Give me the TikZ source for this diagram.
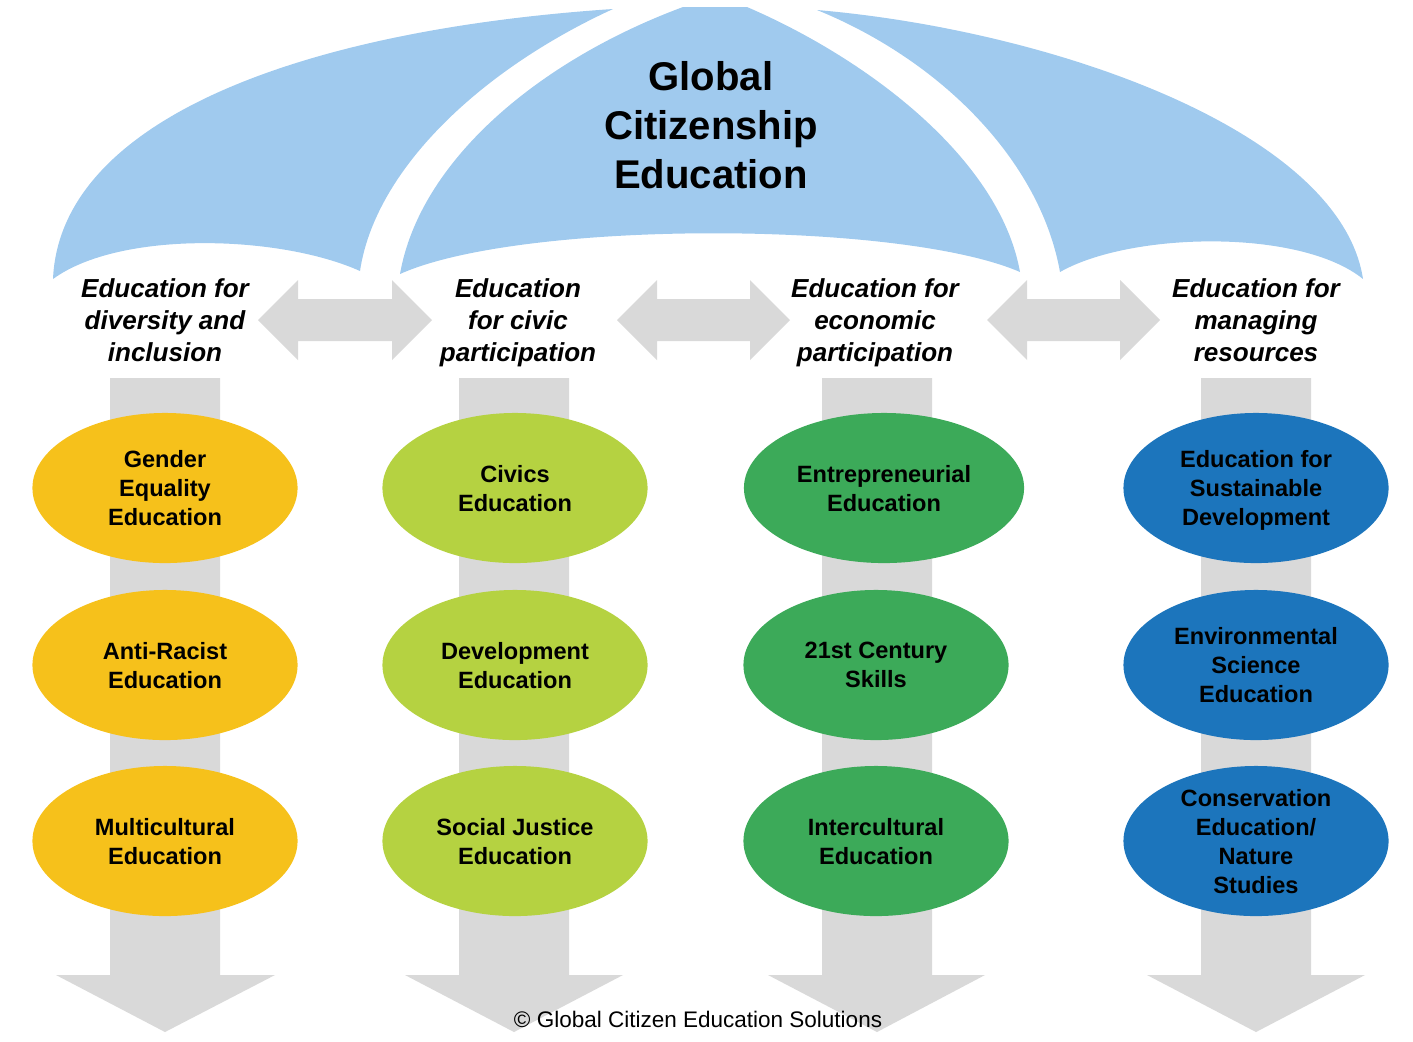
\documentclass[tikz,border=0pt]{standalone}
\usepackage{fontspec}
\setmainfont{Liberation Sans}
\usetikzlibrary{shapes.geometric}
\definecolor{umbrella}{HTML}{A0CAEE}
\definecolor{arrowgray}{HTML}{D9D9D9}
\definecolor{ovalyellow}{HTML}{F6C11B}
\definecolor{ovallime}{HTML}{B5D241}
\definecolor{ovalgreen}{HTML}{3CAA59}
\definecolor{ovalblue}{HTML}{1C75BC}
\begin{document}
\begin{tikzpicture}[x=0.01cm, y=-0.01cm,
	topic/.style={shape=ellipse, minimum width=2.65cm, minimum height=1.5cm, inner sep=0pt, align=center, text=black, text depth=0pt, font=\fontsize{6.7}{8.25}\selectfont\bfseries},
	strand/.style={align=center, text=black, text depth=0pt, font=\fontsize{7.4}{9.1}\selectfont\bfseries\itshape},
	canopy/.style={fill=umbrella, draw=none},
	blockarrow/.style={fill=arrowgray, draw=none}]
					\useasboundingbox (0,0) rectangle (1413,1041);

					% umbrella
					\fill[canopy] (53,279) .. controls (60,120) and (300,30) .. (613,9) .. controls (480,70) and (375,170) .. (360,271) .. controls (280,235) and (120,230) .. (53,279) -- cycle;
					\fill[canopy] (400,274) .. controls (420,160) and (540,60) .. (683,7) -- (747,7) .. controls (870,60) and (1000,160) .. (1020,272) .. controls (900,220) and (520,220) .. (400,274) -- cycle;
					\fill[canopy] (817,10) .. controls (940,60) and (1040,160) .. (1060,272) .. controls (1130,232) and (1300,228) .. (1363,279) .. controls (1340,130) and (1050,30) .. (817,10) -- cycle;

					\node[align=center, text=black, font=\fontsize{11.4}{13.9}\selectfont\bfseries] (gce) at (711,125) {Global\\Citizenship\\Education};

					% arrows between the strands
					\fill[blockarrow] (258,320) -- (298,280) -- (298,299) -- (392,299) -- (392,280) -- (432,320) -- (392,360) -- (392,341) -- (298,341) -- (298,360) -- cycle;
					\fill[blockarrow] (617,320) -- (657,280) -- (657,299) -- (750,299) -- (750,280) -- (790,320) -- (750,360) -- (750,341) -- (657,341) -- (657,360) -- cycle;
					\fill[blockarrow] (987,320) -- (1027,280) -- (1027,299) -- (1120,299) -- (1120,280) -- (1160,320) -- (1120,360) -- (1120,341) -- (1027,341) -- (1027,360) -- cycle;

					% arrows down the columns
					\fill[blockarrow] (110,378) -- (220,378) -- (220,975) -- (275,975) -- (165,1032) -- (56,975) -- (110,975) -- cycle;
					\fill[blockarrow] (459,378) -- (569,378) -- (569,975) -- (623,975) -- (514,1032) -- (405,975) -- (459,975) -- cycle;
					\fill[blockarrow] (822,378) -- (932,378) -- (932,975) -- (985,975) -- (877,1032) -- (768,975) -- (822,975) -- cycle;
					\fill[blockarrow] (1201,378) -- (1311,378) -- (1311,975) -- (1365,975) -- (1256,1032) -- (1147,975) -- (1201,975) -- cycle;

					\node[strand] (cat_d) at (165,320) {Education for\\diversity and\\inclusion};
					\node[strand] (cat_c) at (518,320) {Education\\for civic\\participation};
					\node[strand] (cat_e) at (875,320) {Education for\\economic\\participation};
					\node[strand] (cat_r) at (1256,320) {Education for\\managing\\resources};

					\node[topic, fill=ovalyellow] (d_1) at (165,488) {Gender\\Equality\\Education};
					\node[topic, fill=ovalyellow] (d_2) at (165,665) {Anti-Racist\\Education};
					\node[topic, fill=ovalyellow] (d_3) at (165,841) {Multicultural\\Education};

					\node[topic, fill=ovallime] (c_1) at (515,488) {Civics\\Education};
					\node[topic, fill=ovallime] (c_2) at (515,665) {Development\\Education};
					\node[topic, fill=ovallime] (c_3) at (515,841) {Social Justice\\Education};

					\node[topic, fill=ovalgreen, minimum width=2.8cm] (e_1) at (884,488) {Entrepreneurial\\Education};
					\node[topic, fill=ovalgreen] (e_2) at (876,665) {21st Century\\Skills};
					\node[topic, fill=ovalgreen] (e_3) at (876,841) {Intercultural\\Education};

					\node[topic, fill=ovalblue] (r_1) at (1256,488) {Education for\\Sustainable\\Development};
					\node[topic, fill=ovalblue] (r_2) at (1256,665) {Environmental\\Science\\Education};
					\node[topic, fill=ovalblue] (r_3) at (1256,841) {Conservation\\Education/\\Nature\\Studies};

					\node[text=black, font=\fontsize{6.4}{7.5}\selectfont] (credit) at (698,1019) {© Global Citizen Education Solutions};
				\end{tikzpicture}
\end{document}
